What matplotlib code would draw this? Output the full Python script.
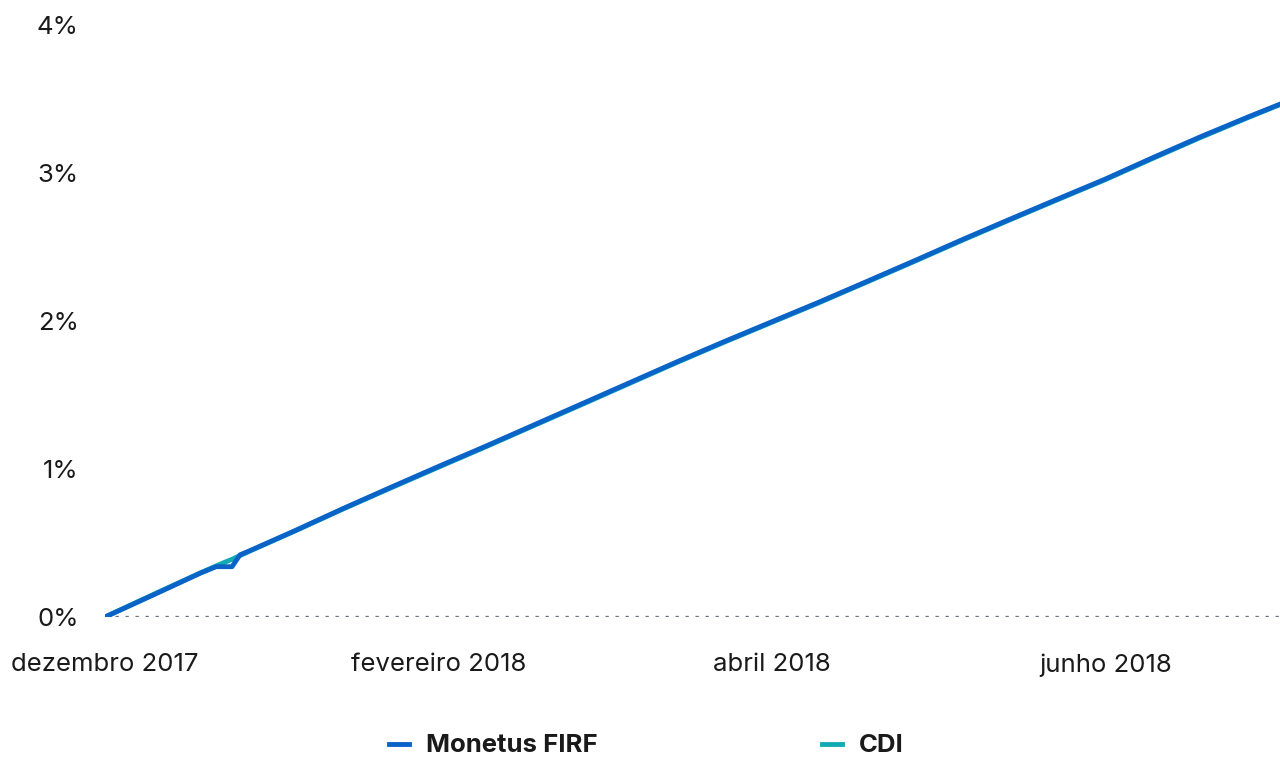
#!/usr/bin/env python

import matplotlib
matplotlib.use("Agg")
from matplotlib import pyplot, ticker

# business-day index since 1 Dec 2017
days = [0, 6, 12, 14, 15, 16, 17, 18, 24, 30, 36, 42, 48, 54, 60, 66, 72,
        78, 84, 90, 96, 102, 108, 114, 120, 126, 132, 138, 144, 148]

monetus = [0.000, 0.147, 0.296, 0.340, 0.340, 0.340, 0.420, 0.442, 0.585,
           0.733, 0.876, 1.017, 1.155, 1.297, 1.439, 1.581, 1.723, 1.861,
           1.995, 2.129, 2.268, 2.408, 2.550, 2.688, 2.824, 2.959, 3.104,
           3.245, 3.379, 3.465]

cdi = [0.000, 0.150, 0.298, 0.345, 0.368, 0.390, 0.415, 0.440, 0.583,
       0.730, 0.872, 1.012, 1.151, 1.293, 1.434, 1.577, 1.719, 1.857,
       1.991, 2.125, 2.264, 2.404, 2.546, 2.684, 2.820, 2.955, 3.099,
       3.240, 3.375, 3.462]

tick_pos = [0, 42, 84, 126]
tick_labels = ["dezembro 2017", "fevereiro 2018", "abril 2018", "junho 2018"]

BLUE = "#0a64c8"
TEAL = "#14aab4"
TEXT = "#1a1a1a"
FS = 18.5

pyplot.rcParams["font.family"] = ["Inter", "DejaVu Sans"]

fig = pyplot.figure(figsize=(12.8, 7.61), dpi=100)
ax = fig.add_axes([105 / 1280, 1 - 617 / 761, 1 - 105 / 1280, (617 - 25) / 761])

ax.plot(days, cdi, color=TEAL, lw=3.5, label="CDI", zorder=2,
        solid_joinstyle="round")
ax.plot(days, monetus, color=BLUE, lw=3.5, label="Monetus FIRF", zorder=3,
        solid_joinstyle="round")

ax.axhline(0, color="#6b7588", lw=2.4, ls=(0, (1, 2)), zorder=1)

ax.set_xlim(0, 148)
ax.set_ylim(0, 4)
ax.set_xticks(tick_pos)
ax.set_xticklabels(tick_labels)
ax.yaxis.set_major_locator(ticker.MultipleLocator(1))
ax.yaxis.set_major_formatter(ticker.FuncFormatter(lambda v, p: f"{v:.0f}%"))
ax.tick_params(length=0, labelsize=FS, labelcolor=TEXT)
ax.tick_params(axis="y", pad=19)
ax.tick_params(axis="x", pad=26)
for s in ax.spines.values():
    s.set_visible(False)

handles, labels = ax.get_legend_handles_labels()
leg = fig.legend(handles[::-1], labels[::-1], loc="center",
                 bbox_to_anchor=(0.505, 1 - 746 / 761), ncol=2, frameon=False,
                 prop={"size": FS, "weight": "bold"}, handlelength=0.77,
                 handletextpad=0.65, columnspacing=8.75)
for t in leg.get_texts():
    t.set_color(TEXT)

fig.savefig("out.png", dpi=100)
